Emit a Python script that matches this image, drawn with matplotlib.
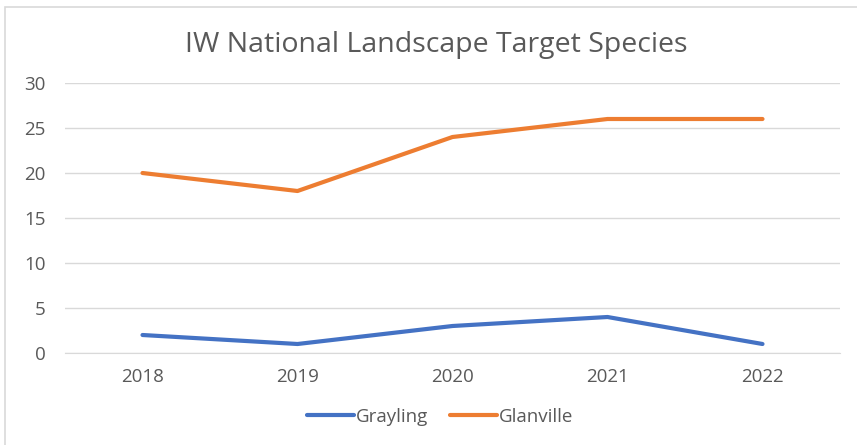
import matplotlib
matplotlib.use("Agg")
import matplotlib.pyplot as plt
from matplotlib.patches import Rectangle

years = ["2018", "2019", "2020", "2021", "2022"]
grayling = [2, 1, 3, 4, 1]
glanville = [20, 18, 24, 26, 26]
y_ticks = [0, 5, 10, 15, 20, 25, 30]

BLUE = "#4472C4"
ORANGE = "#ED7D31"
TEXT = "#595959"
GRID = "#D9D9D9"

plt.rcParams["font.family"] = ["Open Sans", "DejaVu Sans"]

fig = plt.figure(figsize=(8.57, 4.45), dpi=100)
fig.patch.set_facecolor("white")

# chart frame (cut off at right and bottom like the source screenshot)
fig.add_artist(Rectangle((5 / 857, -0.05), 1.2, (445 - 7) / 445 + 0.05,
                         transform=fig.transFigure, fill=False,
                         edgecolor=GRID, linewidth=1.2))

ax = fig.add_axes([65 / 857, 92 / 445, 775 / 857, 270 / 445])
x = range(len(years))
ax.plot(x, grayling, color=BLUE, linewidth=3.0, label="Grayling", solid_capstyle="round")
ax.plot(x, glanville, color=ORANGE, linewidth=3.0, label="Glanville", solid_capstyle="round")

ax.set_xlim(-0.5, len(years) - 0.5)
ax.set_ylim(0, 30)
ax.set_yticks(y_ticks)
ax.set_xticks(list(x))
ax.set_xticklabels(years)
ax.grid(axis="y", color=GRID, linewidth=1)
ax.set_axisbelow(True)
for side in ["top", "right", "left"]:
    ax.spines[side].set_visible(False)
ax.spines["bottom"].set_color(GRID)
ax.tick_params(length=0, colors=TEXT, labelsize=13.5)
ax.tick_params(axis="y", pad=14)
ax.tick_params(axis="x", pad=11)

fig.text(436 / 857, 1 - 45 / 445, "IW National Landscape Target Species",
         ha="center", va="center", fontsize=20.5, color=TEXT)

fig.legend(loc="center", bbox_to_anchor=(440 / 857, 1 - 417 / 445), ncol=2,
           frameon=False, fontsize=13.5, labelcolor=TEXT, handlelength=2.5,
           handletextpad=0.1, columnspacing=1.2)

fig.savefig("out.png", dpi=100)
